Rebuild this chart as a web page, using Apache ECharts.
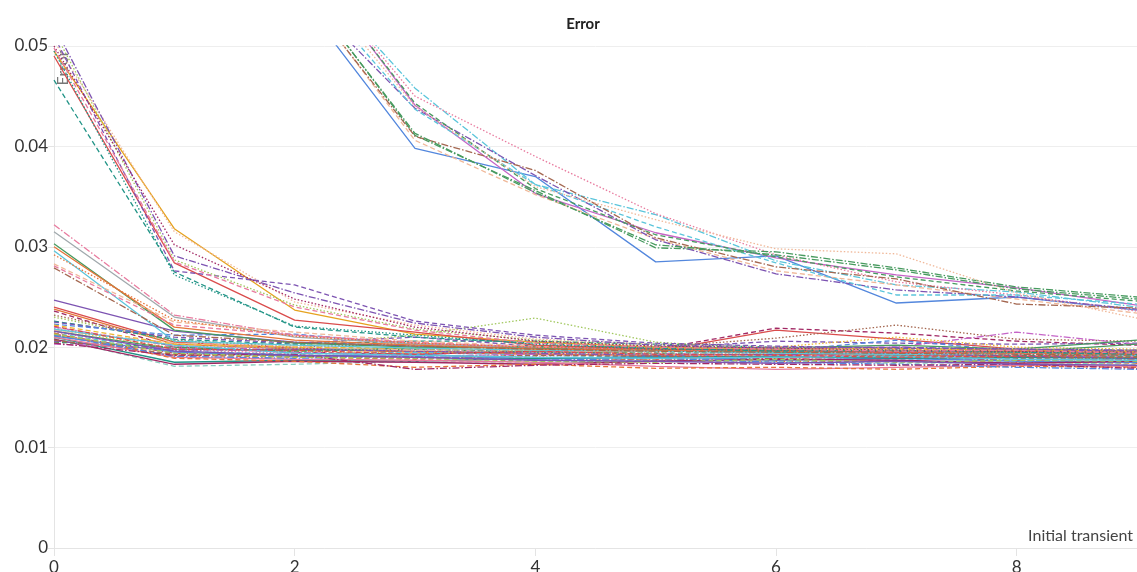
<!DOCTYPE html>
<html>
<head>
<meta charset="utf-8">
<script src="https://cdn.jsdelivr.net/npm/echarts@6/dist/echarts.min.js"></script>
<style>html,body{margin:0;padding:0;background:#fff}#c{width:1137px;height:572px}</style>
</head>
<body>
<div id="c"></div>
<script>
// ---- data ----
var xValues = [0, 1, 2, 3, 4, 5, 6, 7, 8, 9];
var chartTitle = 'Error';
var xName = 'Initial transient';
var yName = 'Error';
var yTicks = [0, 0.01, 0.02, 0.03, 0.04, 0.05];
var xTicks = [0, 2, 4, 6, 8];

// runs that start near 0.05
var groupA = [
  [0.0495, 0.0318, 0.0237, 0.0213, 0.0205, 0.0200, 0.0198, 0.0199, 0.0197, 0.0196],
  [0.0505, 0.0315, 0.0245, 0.0222, 0.0208, 0.0203, 0.0200, 0.0198, 0.0199, 0.0197],
  [0.0490, 0.0284, 0.0227, 0.0215, 0.0202, 0.0198, 0.0197, 0.0195, 0.0196, 0.0194],
  [0.0466, 0.0275, 0.0220, 0.0210, 0.0204, 0.0199, 0.0196, 0.0197, 0.0195, 0.0193],
  [0.0520, 0.0291, 0.0254, 0.0224, 0.0210, 0.0202, 0.0199, 0.0200, 0.0198, 0.0197],
  [0.0510, 0.0276, 0.0262, 0.0226, 0.0212, 0.0204, 0.0201, 0.0199, 0.0198, 0.0196],
  [0.0515, 0.0287, 0.0242, 0.0218, 0.0207, 0.0201, 0.0198, 0.0197, 0.0196, 0.0195],
  [0.0495, 0.0272, 0.0221, 0.0212, 0.0203, 0.0198, 0.0197, 0.0196, 0.0195, 0.0194],
  [0.0500, 0.0302, 0.0248, 0.0220, 0.0206, 0.0201, 0.0199, 0.0197, 0.0196, 0.0195],
  [0.0498, 0.0285, 0.0240, 0.0217, 0.0204, 0.0200, 0.0198, 0.0196, 0.0197, 0.0194]
];
// runs that start far above the visible range
var groupB = [
  [0.125, 0.082, 0.0555, 0.0398, 0.0370, 0.0285, 0.0291, 0.0244, 0.0250, 0.0237],
  [0.130, 0.085, 0.0600, 0.0441, 0.0353, 0.0314, 0.0289, 0.0272, 0.0259, 0.0242],
  [0.128, 0.086, 0.0590, 0.0458, 0.0362, 0.0332, 0.0286, 0.0262, 0.0255, 0.0240],
  [0.127, 0.084, 0.0595, 0.0450, 0.0390, 0.0333, 0.0292, 0.0265, 0.0252, 0.0236],
  [0.124, 0.083, 0.0570, 0.0411, 0.0356, 0.0299, 0.0295, 0.0279, 0.0260, 0.0250],
  [0.122, 0.080, 0.0565, 0.0406, 0.0352, 0.0308, 0.0276, 0.0262, 0.0248, 0.0234],
  [0.126, 0.081, 0.0560, 0.0438, 0.0371, 0.0307, 0.0273, 0.0257, 0.0250, 0.0238],
  [0.125, 0.082, 0.0575, 0.0437, 0.0362, 0.0320, 0.0284, 0.0252, 0.0252, 0.0243],
  [0.129, 0.085, 0.0598, 0.0443, 0.0358, 0.0312, 0.0290, 0.0270, 0.0256, 0.0246],
  [0.123, 0.080, 0.0562, 0.0410, 0.0376, 0.0309, 0.0280, 0.0268, 0.0243, 0.0239],
  [0.126, 0.083, 0.0585, 0.0440, 0.0360, 0.0327, 0.0298, 0.0293, 0.0254, 0.0229],
  [0.124, 0.082, 0.0568, 0.0413, 0.0354, 0.0302, 0.0292, 0.0277, 0.0258, 0.0248]
];
// runs that start near 0.03
var groupC = [
  [0.0322, 0.0232, 0.0212, 0.0205, 0.0200, 0.0198, 0.0197, 0.0196, 0.0195, 0.0195],
  [0.0315, 0.0230, 0.0210, 0.0203, 0.0199, 0.0197, 0.0196, 0.0196, 0.0194, 0.0193],
  [0.0303, 0.0217, 0.0204, 0.0200, 0.0199, 0.0197, 0.0195, 0.0196, 0.0195, 0.0203],
  [0.0296, 0.0206, 0.0202, 0.0199, 0.0197, 0.0196, 0.0194, 0.0193, 0.0194, 0.0192],
  [0.0300, 0.0220, 0.0207, 0.0202, 0.0198, 0.0197, 0.0196, 0.0195, 0.0194, 0.0193],
  [0.0283, 0.0225, 0.0215, 0.0206, 0.0201, 0.0199, 0.0197, 0.0196, 0.0195, 0.0194],
  [0.0281, 0.0222, 0.0212, 0.0204, 0.0200, 0.0198, 0.0196, 0.0195, 0.0194, 0.0193],
  [0.0279, 0.0212, 0.0205, 0.0201, 0.0198, 0.0196, 0.0195, 0.0194, 0.0193, 0.0192],
  [0.0292, 0.0227, 0.0211, 0.0204, 0.0200, 0.0198, 0.0197, 0.0195, 0.0194, 0.0193]
];
// runs that start near 0.02
var groupD = [
  [0.0247, 0.0216, 0.0205, 0.0201, 0.0199, 0.0198, 0.0196, 0.0195, 0.0194, 0.0193],
  [0.0240, 0.0205, 0.0199, 0.0196, 0.0194, 0.0196, 0.0217, 0.0208, 0.0198, 0.0196],
  [0.0238, 0.0203, 0.0198, 0.0195, 0.0193, 0.0192, 0.0193, 0.0192, 0.0191, 0.0190],
  [0.0236, 0.0200, 0.0195, 0.0193, 0.0196, 0.0198, 0.0219, 0.0214, 0.0206, 0.0202],
  [0.0232, 0.0207, 0.0200, 0.0204, 0.0199, 0.0200, 0.0209, 0.0222, 0.0208, 0.0206],
  [0.0230, 0.0206, 0.0202, 0.0212, 0.0229, 0.0205, 0.0198, 0.0196, 0.0195, 0.0194],
  [0.0226, 0.0208, 0.0203, 0.0206, 0.0206, 0.0203, 0.0200, 0.0199, 0.0198, 0.0197],
  [0.0225, 0.0210, 0.0204, 0.0210, 0.0201, 0.0199, 0.0206, 0.0204, 0.0203, 0.0204],
  [0.0223, 0.0212, 0.0213, 0.0203, 0.0200, 0.0197, 0.0196, 0.0207, 0.0196, 0.0195],
  [0.0220, 0.0201, 0.0197, 0.0198, 0.0196, 0.0197, 0.0200, 0.0200, 0.0215, 0.0203],
  [0.0218, 0.0199, 0.0196, 0.0194, 0.0197, 0.0195, 0.0200, 0.0210, 0.0200, 0.0198],
  [0.0216, 0.0198, 0.0197, 0.0199, 0.0201, 0.0200, 0.0199, 0.0202, 0.0198, 0.0207],
  [0.0215, 0.0197, 0.0194, 0.0192, 0.0191, 0.0193, 0.0190, 0.0189, 0.0190, 0.0188],
  [0.0214, 0.0196, 0.0193, 0.0195, 0.0192, 0.0190, 0.0191, 0.0188, 0.0189, 0.0187],
  [0.0213, 0.0194, 0.0192, 0.0190, 0.0189, 0.0188, 0.0189, 0.0190, 0.0187, 0.0188],
  [0.0212, 0.0192, 0.0190, 0.0188, 0.0190, 0.0187, 0.0186, 0.0186, 0.0185, 0.0184],
  [0.0211, 0.0195, 0.0191, 0.0193, 0.0188, 0.0191, 0.0187, 0.0189, 0.0186, 0.0185],
  [0.0210, 0.0185, 0.0187, 0.0186, 0.0189, 0.0190, 0.0191, 0.0189, 0.0190, 0.0189],
  [0.0209, 0.0181, 0.0183, 0.0186, 0.0185, 0.0187, 0.0186, 0.0184, 0.0185, 0.0183],
  [0.0208, 0.0183, 0.0186, 0.0185, 0.0183, 0.0186, 0.0188, 0.0187, 0.0184, 0.0186],
  [0.0203, 0.0199, 0.0195, 0.0191, 0.0193, 0.0194, 0.0192, 0.0191, 0.0192, 0.0190],
  [0.0205, 0.0200, 0.0196, 0.0198, 0.0195, 0.0194, 0.0195, 0.0193, 0.0192, 0.0191],
  [0.0206, 0.0197, 0.0198, 0.0196, 0.0194, 0.0192, 0.0193, 0.0194, 0.0191, 0.0189],
  [0.0207, 0.0193, 0.0191, 0.0189, 0.0192, 0.0191, 0.0190, 0.0192, 0.0189, 0.0190],
  [0.0219, 0.0201, 0.0199, 0.0197, 0.0195, 0.0193, 0.0194, 0.0193, 0.0193, 0.0192],
  [0.0217, 0.0204, 0.0201, 0.0197, 0.0198, 0.0196, 0.0197, 0.0197, 0.0196, 0.0195],
  [0.0210, 0.0190, 0.0188, 0.0187, 0.0185, 0.0181, 0.0178, 0.0180, 0.0182, 0.0181],
  [0.0214, 0.0189, 0.0186, 0.0180, 0.0183, 0.0179, 0.0180, 0.0178, 0.0181, 0.0180],
  [0.0212, 0.0191, 0.0189, 0.0191, 0.0187, 0.0189, 0.0185, 0.0183, 0.0180, 0.0178],
  [0.0204, 0.0192, 0.0193, 0.0178, 0.0182, 0.0184, 0.0183, 0.0182, 0.0183, 0.0179],
  [0.0213, 0.0194, 0.0190, 0.0189, 0.0186, 0.0185, 0.0188, 0.0185, 0.0187, 0.0186],
  [0.0218, 0.0202, 0.0194, 0.0192, 0.0190, 0.0189, 0.0190, 0.0191, 0.0188, 0.0187],
  [0.0221, 0.0198, 0.0197, 0.0193, 0.0196, 0.0193, 0.0192, 0.0190, 0.0191, 0.0192],
  [0.0216, 0.0196, 0.0192, 0.0190, 0.0187, 0.0186, 0.0184, 0.0186, 0.0183, 0.0182],
  [0.0222, 0.0203, 0.0200, 0.0199, 0.0197, 0.0199, 0.0198, 0.0198, 0.0197, 0.0196]
];

// ---- styles ----
var C = {
  blue: '#5387DD', red: '#DA4C4C', green: '#479A5F', purple: '#7D54B2', pink: '#E87B9F',
  orange: '#E57439', lteal: '#87CEBF', magenta: '#C565C7', yellow: '#EDB732', teal: '#229487',
  brown: '#A46750', lime: '#A0C75C', maroon: '#A12864', salmon: '#F0B899', cyan: '#5BC5DB',
  gray: '#A1A9AD', gold: '#E5A21F'
};
var DASH = { s: 'solid', d: [5, 3], o: [1.5, 2], x: [7, 2, 1.5, 2] };
var styleA = [['gold','s'],['salmon','o'],['red','s'],['teal','d'],['purple','x'],['purple','d'],['lime','o'],['teal','o'],['maroon','o'],['pink','d']];
var styleB = [['blue','s'],['magenta','s'],['cyan','x'],['pink','o'],['green','x'],['salmon','d'],['purple','x'],['cyan','d'],['green','d'],['brown','x'],['salmon','o'],['green','x']];
var styleC = [['pink','x'],['gray','s'],['green','s'],['cyan','s'],['orange','s'],['salmon','d'],['pink','d'],['brown','x'],['orange','o']];
var styleD = [['purple','s'],['red','s'],['orange','s'],['maroon','d'],['brown','o'],['lime','o'],['teal','d'],['purple','d'],['blue','d'],['magenta','x'],
  ['yellow','o'],['green','s'],['pink','o'],['cyan','d'],['red','x'],['orange','d'],['blue','s'],['teal','s'],['lteal','d'],['maroon','s'],
  ['magenta','x'],['green','d'],['purple','x'],['brown','d'],['gray','o'],['salmon','x'],['pink','s'],['orange','d'],['blue','x'],['maroon','x'],
  ['lime','d'],['cyan','s'],['red','d'],['purple','s'],['yellow','d']];

var series = [];
function addGroup(group, styles, tag) {
  group.forEach(function (vals, i) {
    var st = styles[i % styles.length];
    series.push({
      name: tag + (i + 1),
      type: 'line',
      data: xValues.map(function (x, k) { return [x, vals[k]]; }),
      showSymbol: false,
      symbol: 'none',
      silent: true,
      clip: true,
      lineStyle: { color: C[st[0]], width: 1.3, type: DASH[st[1]] },
      itemStyle: { color: C[st[0]] }
    });
  });
}
addGroup(groupD, styleD, 'D');
addGroup(groupC, styleC, 'C');
addGroup(groupA, styleA, 'A');
addGroup(groupB, styleB, 'B');

var FONT = 'Lato';
var chart = echarts.init(document.getElementById('c'), null, { renderer: 'canvas' });
chart.setOption({
  animation: false,
  backgroundColor: '#ffffff',
  title: {
    text: chartTitle, left: 578, textAlign: 'center', top: 12,
    textStyle: { fontFamily: FONT, fontSize: 15, fontWeight: 'bold', color: '#222' }
  },
  grid: { left: 54, right: 0, top: 46, bottom: 24, containLabel: false, outerBoundsMode: 'none' },
  xAxis: {
    type: 'value', min: 0, max: 9, interval: 2,
    name: xName, nameLocation: 'end', nameGap: 0,
    nameTextStyle: { fontFamily: FONT, fontSize: 16, color: '#444', align: 'right', verticalAlign: 'bottom', padding: [0, 4, 4, 0] },
    axisLine: { lineStyle: { color: '#e4e4e4' } },
    axisTick: { show: true, length: 8, lineStyle: { color: '#e4e4e4' } },
    splitLine: { show: false },
    axisLabel: { fontFamily: FONT, fontSize: 17, color: '#333', margin: 11, showMaxLabel: false,
      formatter: function (v) { return xTicks.indexOf(v) >= 0 ? String(v) : ''; } }
  },
  yAxis: {
    type: 'value', min: 0, max: 0.05, interval: 0.01,
    axisLine: { show: true, lineStyle: { color: '#e4e4e4' } },
    axisTick: { show: true, length: 6, lineStyle: { color: '#e4e4e4' } },
    splitLine: { show: true, lineStyle: { color: '#eeeeee' } },
    axisLabel: { fontFamily: FONT, fontSize: 17, color: '#333', margin: 6,
      formatter: function (v) { return yTicks.indexOf(+v.toFixed(2)) >= 0 ? String(+v.toFixed(2)) : ''; } }
  },
  graphic: [{
    type: 'text', x: 63, y: 68, rotation: Math.PI / 2, silent: true,
    style: { text: yName, fontFamily: FONT, fontSize: 16, fill: '#777', align: 'center', verticalAlign: 'middle' }
  }],
  series: series
});
</script>
</body>
</html>
